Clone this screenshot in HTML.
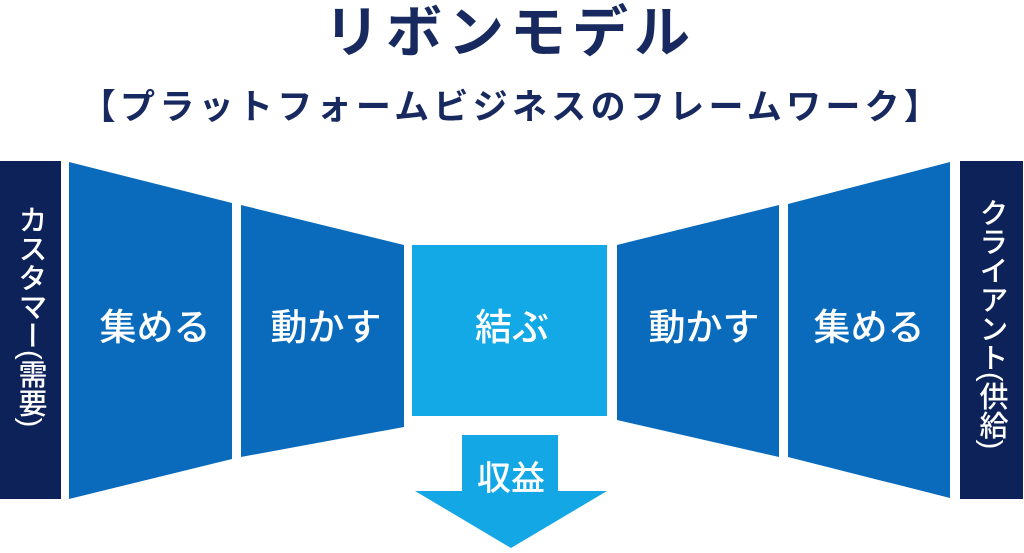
<!DOCTYPE html>
<html><head><meta charset="utf-8"><style>
html,body{margin:0;padding:0;background:#fff;width:1024px;height:553px;overflow:hidden}
svg{display:block}
text{font-family:"Liberation Sans","Noto Sans CJK JP",sans-serif}
</style></head><body>
<svg width="1024" height="553" viewBox="0 0 1024 553" xmlns="http://www.w3.org/2000/svg">
<text x="510" y="52" text-anchor="middle" font-size="56" font-weight="bold" fill="#17295e" letter-spacing="6">リボンモデル</text>
<text x="512" y="119" text-anchor="middle" font-size="35" font-weight="bold" fill="#17295e" letter-spacing="4.3">【プラットフォームビジネスのフレームワーク】</text>
<rect x="0" y="161" width="61" height="338" fill="#0d2259"/>
<rect x="960" y="161" width="63" height="338" fill="#0d2259"/>
<polygon points="69,162 232,203 232,459 69,499" fill="#0a6bbd"/>
<polygon points="241,205 404,245 404,427 241,457" fill="#0a6bbd"/>
<rect x="412" y="245" width="195" height="171" fill="#12a9e6"/>
<polygon points="617,245 779,205 779,457 617,420" fill="#0a6bbd"/>
<polygon points="788,204 950,162 950,498 788,457" fill="#0a6bbd"/>
<polygon points="462,435 558,435 558,491 607,491 511,548 415,491 462,491" fill="#14a7e6"/>
<g fill="#fff" font-size="37" text-anchor="middle" font-weight="500">
<text x="155" y="340">集める</text>
<text x="326" y="340">動かす</text>
<text x="512" y="340">結ぶ</text>
<text x="704" y="340">動かす</text>
<text x="869" y="340">集める</text>
<text x="511" y="490" font-size="34">収益</text>
</g>
<g fill="#fff" font-size="29" font-weight="500">
<text x="30" y="205" writing-mode="tb" style="writing-mode:vertical-rl" text-anchor="start">カスタマー(需要)</text>
<text x="991" y="198" writing-mode="tb" style="writing-mode:vertical-rl" text-anchor="start">クライアント(供給)</text>
</g>
</svg>
</body></html>
